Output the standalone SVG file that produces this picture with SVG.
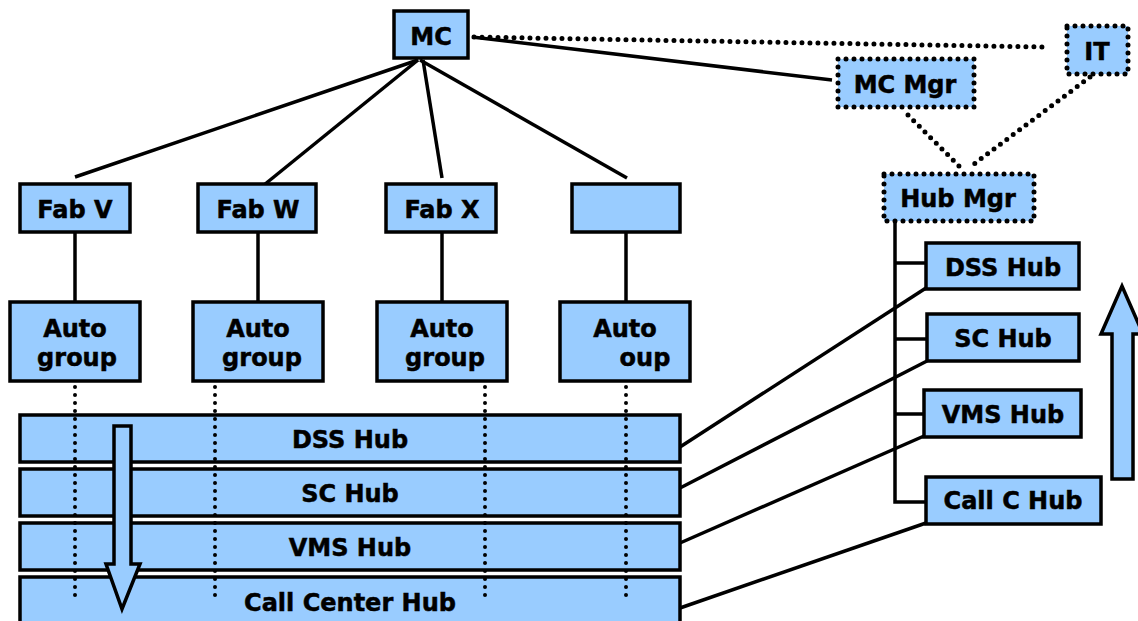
<svg xmlns="http://www.w3.org/2000/svg" width="1138" height="621" viewBox="0 0 1138 621">
<style>
.box{fill:#99CCFF;stroke:#000;stroke-width:3.5}
.dbox{fill:#99CCFF;stroke:#000;stroke-width:5;stroke-dasharray:0 8;stroke-linecap:round}
.t{font-family:"DejaVu Sans",Verdana,sans-serif;font-weight:bold;font-size:24px;fill:#000;stroke:#000;stroke-width:0.5;text-anchor:middle}
.ln{stroke:#000;stroke-width:3.5;fill:none}
.dot{stroke:#000;stroke-width:5;stroke-dasharray:0 8;stroke-linecap:round;fill:none}
.vdot{stroke:#000;stroke-width:4;stroke-dasharray:0 8;stroke-linecap:round;fill:none}
.arrow{fill:#99CCFF;stroke:#000;stroke-width:3.5;stroke-linejoin:miter}
</style>
<rect width="1138" height="621" fill="#fff"/>
<g id="connectors">
<line class="ln" x1="418" y1="60" x2="75" y2="177"/>
<line class="ln" x1="418" y1="60" x2="259" y2="189"/>
<line class="ln" x1="423" y1="60" x2="442" y2="178"/>
<line class="ln" x1="420" y1="60" x2="627" y2="178"/>
<line class="ln" x1="472" y1="37" x2="832" y2="80"/>
<line class="dot" x1="474" y1="37" x2="1042" y2="47"/>
<line class="dot" x1="908" y1="115" x2="960" y2="167"/>
<line class="dot" x1="1090" y1="77" x2="970" y2="167"/>
<line class="ln" x1="75" y1="232" x2="75" y2="302"/>
<line class="ln" x1="258" y1="232" x2="258" y2="302"/>
<line class="ln" x1="442" y1="232" x2="442" y2="302"/>
<line class="ln" x1="626" y1="226" x2="626" y2="302"/>
<polyline class="ln" points="895,222 895,502 926,502"/>
<line class="ln" x1="895" y1="263" x2="926" y2="263"/>
<line class="ln" x1="895" y1="339" x2="926" y2="339"/>
<line class="ln" x1="895" y1="414" x2="924" y2="414"/>
<line class="ln" x1="926" y1="288" x2="680" y2="447"/>
<line class="ln" x1="927" y1="361" x2="680" y2="488"/>
<line class="ln" x1="924" y1="436" x2="680" y2="543"/>
<line class="ln" x1="926" y1="523" x2="680" y2="608"/>
</g>
<g id="mc"><rect class="box" x="394" y="11" width="74" height="47"/><text class="t" x="431" y="45">MC</text></g>
<g id="mcmgr"><rect class="dbox" x="838" y="59" width="136" height="48"/><text class="t" x="905" y="93">MC Mgr</text></g>
<g id="it"><rect class="dbox" x="1067" y="26" width="61" height="48"/><text class="t" x="1097" y="60">IT</text></g>
<g id="hubmgr"><rect class="dbox" x="884" y="174" width="150" height="47"/><text class="t" x="958" y="207">Hub Mgr</text></g>
<g id="fabv"><rect class="box" x="20" y="184" width="110" height="48"/><text class="t" x="75" y="218">Fab V</text></g>
<g id="fabw"><rect class="box" x="198" y="184" width="118" height="48"/><text class="t" x="258" y="218">Fab W</text></g>
<g id="fabx"><rect class="box" x="386" y="184" width="110" height="48"/><text class="t" x="442" y="218">Fab X</text></g>
<g id="fabblank"><rect class="box" x="572" y="184" width="108" height="48"/></g>
<g id="auto1"><rect class="box" x="10" y="302" width="130" height="79"/><text class="t" x="75" y="337">Auto</text><text class="t" x="77" y="366">group</text></g>
<g id="auto2"><rect class="box" x="193" y="302" width="130" height="79"/><text class="t" x="258" y="337">Auto</text><text class="t" x="262" y="366">group</text></g>
<g id="auto3"><rect class="box" x="377" y="302" width="130" height="79"/><text class="t" x="442" y="337">Auto</text><text class="t" x="445" y="366">group</text></g>
<g id="auto4"><rect class="box" x="560" y="302" width="130" height="79"/><text class="t" x="625" y="337">Auto</text><text class="t" x="645" y="366">oup</text></g>
<g id="bar-dss"><rect class="box" x="20" y="415" width="660" height="47"/><text class="t" x="350" y="448">DSS Hub</text></g>
<g id="bar-sc"><rect class="box" x="20" y="469" width="660" height="47"/><text class="t" x="350" y="502">SC Hub</text></g>
<g id="bar-vms"><rect class="box" x="20" y="523" width="660" height="47"/><text class="t" x="350" y="556">VMS Hub</text></g>
<g id="bar-call"><rect class="box" x="20" y="577" width="660" height="50"/><text class="t" x="350" y="611">Call Center Hub</text></g>
<g id="dotted-drops">
<line class="vdot" x1="75" y1="387" x2="75" y2="602"/>
<line class="vdot" x1="215" y1="387" x2="215" y2="602"/>
<line class="vdot" x1="485" y1="387" x2="485" y2="602"/>
<line class="vdot" x1="626" y1="387" x2="626" y2="602"/>
</g>
<g id="down-arrow"><polygon class="arrow" points="114,426 131,426 131,564 140,564 122,609 106,564 114,564"/></g>
<g id="hub-dss"><rect class="box" x="926" y="243" width="153" height="46"/><text class="t" x="1003" y="276">DSS Hub</text></g>
<g id="hub-sc"><rect class="box" x="927" y="314" width="152" height="47"/><text class="t" x="1003" y="347">SC Hub</text></g>
<g id="hub-vms"><rect class="box" x="924" y="390" width="157" height="47"/><text class="t" x="1003" y="423">VMS Hub</text></g>
<g id="hub-call"><rect class="box" x="926" y="477" width="175" height="47"/><text class="t" x="1013" y="509">Call C Hub</text></g>
<g id="up-arrow"><polygon class="arrow" points="1112,479 1133,479 1133,334 1143,334 1122,286 1101,334 1112,334"/></g>
</svg>
